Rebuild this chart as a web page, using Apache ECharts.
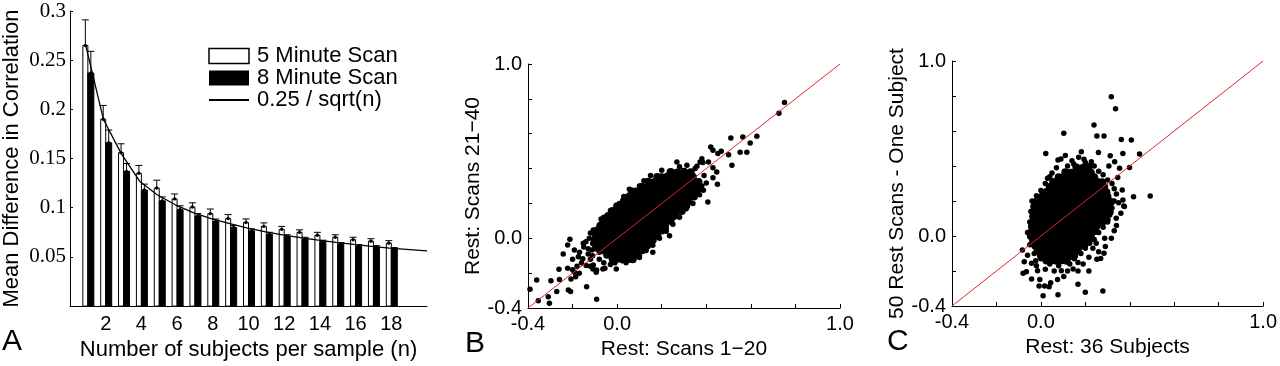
<!DOCTYPE html>
<html>
<head>
<meta charset="utf-8">
<script src="https://cdn.jsdelivr.net/npm/echarts@6/dist/echarts.min.js"></script>
<style>
  html, body { margin: 0; padding: 0; background: #fff; }
  #main { width: 1280px; height: 366px; }
</style>
</head>
<body>
<div id="main"></div>
<script>
// ---- panel A: mean difference in correlation vs. sample size ----
const sampleSizes = [1, 2, 3, 4, 5, 6, 7, 8, 9, 10, 11, 12, 13, 14, 15, 16, 17, 18]
const scan5Mean = [0.265, 0.190, 0.156, 0.135, 0.120, 0.109, 0.1007, 0.094, 0.089, 0.085, 0.081, 0.078, 0.075, 0.072, 0.070, 0.0675, 0.066, 0.064]
const scan5Err = [0.291, 0.204, 0.165, 0.143, 0.128, 0.114, 0.105, 0.0987, 0.093, 0.0886, 0.0846, 0.081, 0.0775, 0.075, 0.0725, 0.070, 0.0685, 0.0665]
const scan8Mean = [0.237, 0.166, 0.137, 0.118, 0.107, 0.098, 0.0916, 0.086, 0.080, 0.0765, 0.073, 0.0705, 0.068, 0.0655, 0.063, 0.061, 0.060, 0.058]
const scan8Err = [0.259, 0.179, 0.145, 0.124, 0.111, 0.102, 0.094, 0.0885, 0.082, 0.0785, 0.075, 0.0725, 0.070, 0.067, 0.0645, 0.0625, 0.0615, 0.0595]
// curve (n, value)
const sqrtCurve = [[0.88, 0.265], [1.87, 0.19], [2.87, 0.155], [3.9, 0.127], [4.9, 0.113], [5.9, 0.103],
  [6.9, 0.095], [7.9, 0.089], [8.9, 0.084], [9.9, 0.0795], [10.9, 0.0758], [11.9, 0.0725], [12.9, 0.0697],
  [13.9, 0.067], [14.9, 0.0648], [15.9, 0.0627], [16.9, 0.0608], [17.9, 0.059], [20, 0.0562]]
const legendNames = ['5 Minute Scan', '8 Minute Scan', '0.25 / sqrt(n)']

// ---- panels B and C: scatter of correlations ----
const shownTicks = [-0.4, 0.0, 1.0]
const identityLine = [[-0.4, -0.4], [1.0, 1.0]]

// B: Rest scans 1-20 (x) vs 21-40 (y), scattered points away from the cloud
const scansOuter = [
  [0.751, 0.779], [0.726, 0.718], [0.627, 0.585], [0.564, 0.581], [0.51, 0.576], [0.597, 0.547], [0.552, 0.493],
  [0.582, 0.493], [0.5, 0.48], [0.515, 0.419], [0.467, 0.499], [0.452, 0.486], [0.42, 0.524], [0.43, 0.505],
  [0.447, 0.38], [0.43, 0.405], [0.45, 0.31], [0.43, 0.348], [0.407, 0.208], [0.38, 0.457], [0.41, 0.438],
  [0.372, 0.438], [0.268, 0.438], [0.313, 0.419], [0.358, 0.413], [0.248, 0.38], [0.178, 0.337], [0.14, 0.279],
  [0.387, 0.275], [0.4, 0.317], [0.37, 0.28], [0.325, 0.206], [0.34, 0.244], [0.385, 0.435], [0.055, 0.282],
  [0.085, 0.263], [0.065, 0.277], [0.17, 0.325], [0.245, 0.373],
  [-0.391, -0.293], [-0.361, -0.239], [-0.354, -0.358], [-0.304, -0.373], [-0.309, -0.335], [-0.297, -0.243],
  [-0.271, -0.306], [-0.261, -0.178], [-0.242, -0.09], [-0.222, -0.172], [-0.219, -0.297], [-0.209, -0.306],
  [-0.212, -0.006], [-0.192, -0.067], [-0.186, -0.22], [-0.174, -0.106], [-0.137, -0.278], [-0.092, -0.35],
  [-0.107, 0.047], [-0.107, -0.153], [-0.069, 0.105], [-0.152, -0.029], [-0.114, -0.067], [-0.092, -0.182],
  [-0.055, -0.172], [-0.01, -0.115], [0.035, -0.125], [-0.222, -0.038], [-0.169, -0.08], [-0.154, -0.118],
  [-0.139, -0.156], [-0.109, -0.176], [-0.064, -0.176], [-0.004, -0.176], [-0.094, -0.195], [-0.259, -0.237],
  [-0.207, -0.233], [-0.192, -0.195], [0.07, -0.118], [0.04, -0.109], [0.1, -0.099], [0.16, -0.08], [0.22, 0.053],
  [0.235, 0.015], [-0.072, 0.111], [-0.034, 0.101], [-0.094, -0.061],
  [-0.15, -0.05], [-0.13, -0.09], [-0.12, -0.12], [-0.16, -0.14], [-0.18, -0.16], [-0.14, -0.02], [-0.125, 0.0],
  [-0.13, -0.06], [-0.11, -0.1], [-0.08, -0.12], [-0.06, -0.14], [-0.03, -0.15], [-0.2, -0.12], [-0.17, -0.2],
  [-0.2, -0.18], [-0.12, -0.16],
  [-0.12, 0.03], [-0.11, -0.03], [-0.08, 0.07], [-0.06, 0.12], [-0.03, 0.16], [0.01, 0.2], [0.03, 0.24],
  [0.06, 0.26], [0.1, 0.3], [0.12, 0.33], [0.15, 0.36], [0.2, 0.39], [0.28, 0.41], [0.35, 0.4], [0.39, 0.36],
  [0.38, 0.3], [0.37, 0.25], [0.34, 0.2], [0.31, 0.17], [0.28, 0.12], [0.25, 0.08], [0.22, 0.04], [0.19, 0.0],
  [0.16, -0.04], [0.13, -0.07], [0.1, -0.11], [0.04, -0.14], [-0.01, -0.14], [-0.08, -0.08], [-0.1, -0.05]
]
// B: the dense middle of the cloud
const scansCore = [
  [-0.02, -0.12], [0.0, -0.118], [0.025, -0.122], [0.05, -0.119], [0.07, -0.121],
  [-0.045, -0.095], [-0.025, -0.093], [-0.003, -0.097], [0.02, -0.094], [0.04, -0.096], [0.062, -0.093], [0.085, -0.095],
  [-0.065, -0.068], [-0.04, -0.066], [-0.02, -0.07], [0.0, -0.067], [0.025, -0.069], [0.045, -0.066], [0.07, -0.07], [0.09, -0.067], [0.112, -0.068],
  [-0.085, -0.04], [-0.06, -0.042], [-0.04, -0.038], [-0.015, -0.041], [0.005, -0.039], [0.03, -0.042], [0.05, -0.038], [0.075, -0.04], [0.095, -0.043], [0.115, -0.039], [0.135, -0.041],
  [-0.1, -0.012], [-0.075, -0.01], [-0.055, -0.014], [-0.03, -0.011], [-0.01, -0.013], [0.015, -0.01], [0.035, -0.014], [0.06, -0.012], [0.08, -0.01], [0.105, -0.013], [0.125, -0.011], [0.145, -0.014], [0.16, -0.01],
  [-0.095, 0.016], [-0.07, 0.018], [-0.05, 0.014], [-0.025, 0.017], [-0.005, 0.015], [0.02, 0.018], [0.04, 0.014], [0.065, 0.016], [0.085, 0.019], [0.11, 0.015], [0.13, 0.017], [0.155, 0.014], [0.18, 0.016],
  [-0.09, 0.044], [-0.065, 0.042], [-0.045, 0.046], [-0.02, 0.043], [0.0, 0.045], [0.025, 0.042], [0.045, 0.046], [0.07, 0.044], [0.09, 0.041], [0.115, 0.045], [0.135, 0.043], [0.16, 0.046], [0.18, 0.042], [0.2, 0.044],
  [-0.075, 0.072], [-0.055, 0.07], [-0.03, 0.074], [-0.01, 0.071], [0.015, 0.073], [0.035, 0.07], [0.06, 0.074], [0.08, 0.072], [0.105, 0.069], [0.125, 0.073], [0.15, 0.071], [0.17, 0.074], [0.195, 0.07], [0.215, 0.072],
  [-0.055, 0.1], [-0.035, 0.098], [-0.01, 0.102], [0.01, 0.099], [0.035, 0.101], [0.055, 0.098], [0.08, 0.102], [0.1, 0.1], [0.125, 0.097], [0.145, 0.101], [0.17, 0.099], [0.19, 0.102], [0.215, 0.098], [0.24, 0.1],
  [-0.04, 0.128], [-0.02, 0.126], [0.005, 0.13], [0.025, 0.127], [0.05, 0.129], [0.07, 0.126], [0.095, 0.13], [0.115, 0.128], [0.14, 0.125], [0.16, 0.129], [0.185, 0.127], [0.205, 0.13], [0.23, 0.126], [0.255, 0.128],
  [-0.02, 0.156], [0.0, 0.154], [0.025, 0.158], [0.045, 0.155], [0.07, 0.157], [0.09, 0.154], [0.115, 0.158], [0.135, 0.156], [0.16, 0.153], [0.18, 0.157], [0.205, 0.155], [0.225, 0.158], [0.25, 0.154], [0.27, 0.156], [0.29, 0.157],
  [0.0, 0.184], [0.02, 0.182], [0.045, 0.186], [0.065, 0.183], [0.09, 0.185], [0.11, 0.182], [0.135, 0.186], [0.155, 0.184], [0.18, 0.181], [0.2, 0.185], [0.225, 0.183], [0.245, 0.186], [0.27, 0.182], [0.29, 0.184], [0.31, 0.185],
  [0.03, 0.212], [0.05, 0.21], [0.075, 0.214], [0.095, 0.211], [0.12, 0.213], [0.14, 0.21], [0.165, 0.214], [0.185, 0.212], [0.21, 0.209], [0.23, 0.213], [0.255, 0.211], [0.275, 0.214], [0.3, 0.21], [0.32, 0.212],
  [0.055, 0.24], [0.08, 0.238], [0.1, 0.242], [0.125, 0.239], [0.145, 0.241], [0.17, 0.238], [0.19, 0.242], [0.215, 0.24], [0.235, 0.237], [0.26, 0.241], [0.28, 0.239], [0.305, 0.242], [0.325, 0.238], [0.345, 0.24],
  [0.085, 0.268], [0.105, 0.266], [0.13, 0.27], [0.15, 0.267], [0.175, 0.269], [0.195, 0.266], [0.22, 0.27], [0.24, 0.268], [0.265, 0.265], [0.285, 0.269], [0.31, 0.267], [0.33, 0.27], [0.355, 0.266],
  [0.11, 0.296], [0.135, 0.294], [0.155, 0.298], [0.18, 0.295], [0.2, 0.297], [0.225, 0.294], [0.245, 0.298], [0.27, 0.296], [0.29, 0.293], [0.315, 0.297], [0.335, 0.295], [0.36, 0.298],
  [0.14, 0.324], [0.165, 0.322], [0.185, 0.326], [0.21, 0.323], [0.23, 0.325], [0.255, 0.322], [0.275, 0.326], [0.3, 0.324], [0.32, 0.321], [0.345, 0.325], [0.365, 0.323],
  [0.18, 0.352], [0.2, 0.35], [0.225, 0.354], [0.25, 0.351], [0.27, 0.353], [0.295, 0.35], [0.315, 0.354], [0.34, 0.352],
  [0.24, 0.38], [0.27, 0.378], [0.3, 0.382], [0.33, 0.379]
]

// C: 36 subjects (x) vs 50 scans of one subject (y)
const subjectOuter = [
  [0.317, 0.796], [0.336, 0.727], [0.239, 0.634], [0.103, 0.587], [0.252, 0.571], [0.284, 0.571], [0.362, 0.552],
  [0.407, 0.549], [0.022, 0.472], [0.182, 0.482], [0.259, 0.477], [0.312, 0.459], [0.369, 0.472], [0.444, 0.469],
  [0.077, 0.434], [0.194, 0.438], [0.227, 0.425], [0.332, 0.425], [0.306, 0.4], [0.148, 0.411], [0.399, 0.392],
  [0.354, 0.387], [0.04, 0.339], [0.346, 0.335], [0.366, 0.263], [0.417, 0.225], [0.492, 0.229], [0.376, 0.168],
  [0.369, 0.206], [-0.027, 0.196], [-0.023, 0.11],
  [-0.083, -0.08], [-0.075, -0.147], [-0.042, -0.156], [-0.023, -0.141], [-0.08, -0.213], [-0.065, -0.204],
  [-0.042, -0.246], [-0.015, -0.198], [-0.005, -0.248], [-0.008, -0.286], [0.017, -0.286], [0.01, -0.341],
  [0.044, -0.267], [0.037, -0.29], [0.077, -0.336], [0.075, -0.248], [0.092, -0.198], [0.103, -0.232],
  [0.122, -0.147], [0.145, -0.189], [0.167, -0.152], [0.167, -0.2], [0.167, -0.276], [0.2, -0.322], [0.216, -0.2],
  [0.216, -0.122], [0.252, -0.133], [0.269, -0.128], [0.284, -0.099], [0.279, -0.314], [0.234, -0.07],
  [0.249, -0.042], [0.287, -0.013], [0.317, -0.013], [0.219, -0.042], [0.339, 0.101], [0.373, 0.171],
  [0.264, 0.072], [0.302, 0.091], [0.212, 0.015],
  [0.05, 0.36], [0.07, 0.39], [0.12, 0.4], [0.14, 0.43], [0.2, 0.42], [0.24, 0.4], [0.26, 0.37], [0.28, 0.35],
  [0.3, 0.32], [0.32, 0.3], [0.33, 0.27], [0.34, 0.24], [0.33, 0.2], [0.32, 0.16], [0.31, 0.12], [0.3, 0.08],
  [0.28, 0.05], [0.26, 0.02], [0.24, -0.02], [0.2, -0.07], [0.18, -0.1], [0.15, -0.13], [0.13, -0.16],
  [0.08, -0.17], [0.04, -0.16], [0.0, -0.13], [-0.03, -0.1], [-0.05, -0.05], [-0.06, 0.02], [-0.05, 0.08],
  [-0.045, 0.14], [-0.04, 0.2], [-0.02, 0.23], [0.0, 0.26], [0.02, 0.3], [0.03, 0.33], [0.09, 0.44], [0.17, 0.45],
  [0.11, 0.46], [0.27, 0.28], [0.35, 0.19], [0.36, 0.13], [0.34, 0.06], [0.33, 0.03], [0.29, -0.06], [0.26, -0.09],
  [0.19, -0.16], [0.12, -0.2], [0.06, -0.2], [0.02, -0.19], [-0.02, -0.17], [-0.06, -0.11]
]
const subjectCore = [
  [0.025, -0.14], [0.05, -0.138], [0.07, -0.142], [0.095, -0.139], [0.115, -0.141],
  [0.0, -0.112], [0.02, -0.11], [0.045, -0.114], [0.065, -0.111], [0.09, -0.113], [0.11, -0.11], [0.135, -0.114], [0.15, -0.112],
  [-0.015, -0.084], [0.01, -0.082], [0.03, -0.086], [0.055, -0.083], [0.075, -0.085], [0.1, -0.082], [0.12, -0.086], [0.145, -0.084], [0.165, -0.081],
  [-0.025, -0.056], [-0.005, -0.054], [0.02, -0.058], [0.04, -0.055], [0.065, -0.057], [0.085, -0.054], [0.11, -0.058], [0.13, -0.056], [0.155, -0.053], [0.175, -0.057], [0.195, -0.055],
  [-0.035, -0.028], [-0.01, -0.026], [0.01, -0.03], [0.035, -0.027], [0.055, -0.029], [0.08, -0.026], [0.1, -0.03], [0.125, -0.028], [0.145, -0.025], [0.17, -0.029], [0.19, -0.027], [0.215, -0.03],
  [-0.045, 0.0], [-0.025, 0.002], [0.0, -0.002], [0.02, 0.001], [0.045, -0.001], [0.065, 0.002], [0.09, -0.002], [0.11, 0.0], [0.135, 0.003], [0.155, -0.001], [0.18, 0.001], [0.2, -0.002], [0.225, 0.0],
  [-0.04, 0.028], [-0.015, 0.026], [0.005, 0.03], [0.03, 0.027], [0.05, 0.029], [0.075, 0.026], [0.095, 0.03], [0.12, 0.028], [0.14, 0.025], [0.165, 0.029], [0.185, 0.027], [0.21, 0.03], [0.23, 0.026], [0.245, 0.028],
  [-0.04, 0.056], [-0.02, 0.054], [0.005, 0.058], [0.025, 0.055], [0.05, 0.057], [0.07, 0.054], [0.095, 0.058], [0.115, 0.056], [0.14, 0.053], [0.16, 0.057], [0.185, 0.055], [0.205, 0.058], [0.23, 0.054], [0.25, 0.056],
  [-0.03, 0.084], [-0.01, 0.082], [0.015, 0.086], [0.035, 0.083], [0.06, 0.085], [0.08, 0.082], [0.105, 0.086], [0.125, 0.084], [0.15, 0.081], [0.17, 0.085], [0.195, 0.083], [0.215, 0.086], [0.24, 0.082], [0.26, 0.084], [0.28, 0.085],
  [-0.035, 0.112], [-0.015, 0.11], [0.01, 0.114], [0.03, 0.111], [0.055, 0.113], [0.075, 0.11], [0.1, 0.114], [0.12, 0.112], [0.145, 0.109], [0.165, 0.113], [0.19, 0.111], [0.21, 0.114], [0.235, 0.11], [0.255, 0.112], [0.28, 0.113], [0.295, 0.111],
  [-0.025, 0.14], [0.0, 0.138], [0.02, 0.142], [0.045, 0.139], [0.065, 0.141], [0.09, 0.138], [0.11, 0.142], [0.135, 0.14], [0.155, 0.137], [0.18, 0.141], [0.2, 0.139], [0.225, 0.142], [0.245, 0.138], [0.27, 0.14], [0.29, 0.141], [0.31, 0.139],
  [-0.03, 0.168], [-0.01, 0.166], [0.015, 0.17], [0.035, 0.167], [0.06, 0.169], [0.08, 0.166], [0.105, 0.17], [0.125, 0.168], [0.15, 0.165], [0.17, 0.169], [0.195, 0.167], [0.215, 0.17], [0.24, 0.166], [0.26, 0.168], [0.285, 0.169], [0.305, 0.167],
  [-0.02, 0.196], [0.005, 0.194], [0.025, 0.198], [0.05, 0.195], [0.07, 0.197], [0.095, 0.194], [0.115, 0.198], [0.14, 0.196], [0.16, 0.193], [0.185, 0.197], [0.205, 0.195], [0.23, 0.198], [0.25, 0.194], [0.275, 0.196], [0.295, 0.197], [0.315, 0.195],
  [0.005, 0.224], [0.03, 0.222], [0.05, 0.226], [0.075, 0.223], [0.095, 0.225], [0.12, 0.222], [0.14, 0.226], [0.165, 0.224], [0.185, 0.221], [0.21, 0.225], [0.23, 0.223], [0.255, 0.226], [0.275, 0.222], [0.3, 0.224],
  [0.025, 0.252], [0.045, 0.25], [0.07, 0.254], [0.09, 0.251], [0.115, 0.253], [0.135, 0.25], [0.16, 0.254], [0.18, 0.252], [0.205, 0.249], [0.225, 0.253], [0.25, 0.251], [0.27, 0.254], [0.295, 0.25],
  [0.04, 0.28], [0.065, 0.278], [0.085, 0.282], [0.11, 0.279], [0.13, 0.281], [0.155, 0.278], [0.175, 0.282], [0.2, 0.28], [0.22, 0.277], [0.245, 0.281], [0.265, 0.279], [0.285, 0.282],
  [0.055, 0.308], [0.075, 0.306], [0.1, 0.31], [0.12, 0.307], [0.145, 0.309], [0.165, 0.306], [0.19, 0.31], [0.21, 0.308], [0.235, 0.305], [0.255, 0.309], [0.275, 0.307],
  [0.08, 0.336], [0.105, 0.334], [0.125, 0.338], [0.15, 0.335], [0.17, 0.337], [0.195, 0.334], [0.215, 0.338], [0.24, 0.336],
  [0.11, 0.364], [0.135, 0.362], [0.16, 0.366], [0.18, 0.363], [0.205, 0.365], [0.225, 0.362],
  [0.16, 0.392], [0.19, 0.39], [0.215, 0.394]
]

const sans = 'Liberation Sans, Arial, sans-serif'
const serif = 'Liberation Serif, Times New Roman, serif'

// bar + errorbar, white bar sits left of the tick, black bar right of it
function barWithError (fill, left) {
  return function (params, api) {
    const n = api.value(0)
    const top = api.coord([n, api.value(1)])
    const base = api.coord([n, 0])
    const err = api.coord([n, api.value(2)])
    const w = left ? 5 : 6
    const x0 = left ? top[0] - 5 : top[0]
    const cx = x0 + w / 2
    return {
      type: 'group',
      children: [
        { type: 'rect', shape: { x: x0, y: top[1], width: w, height: base[1] - top[1] }, style: { fill: fill, stroke: '#000', lineWidth: 1 } },
        { type: 'line', shape: { x1: cx, y1: top[1], x2: cx, y2: err[1] }, style: { stroke: '#000', lineWidth: 1 } },
        { type: 'line', shape: { x1: cx - 3.5, y1: err[1], x2: cx + 3.5, y2: err[1] }, style: { stroke: '#000', lineWidth: 1 } },
        { type: 'circle', shape: { cx: cx, cy: top[1], r: 1.7 }, style: { fill: '#000' } }
      ]
    }
  }
}

function corrLabel (v) {
  return shownTicks.some(t => Math.abs(t - v) < 1e-6) ? v.toFixed(1) : ''
}

function corrAxis (idx, name, gap) {
  return {
    type: 'value',
    gridIndex: idx,
    min: -0.4,
    max: 1.0,
    interval: 0.2,
    name: name,
    nameLocation: 'middle',
    nameGap: gap,
    nameTextStyle: { fontFamily: sans, fontSize: 21, color: '#000' },
    axisLine: { onZero: false, lineStyle: { color: '#000', width: 1 } },
    axisTick: { inside: true, length: 4, lineStyle: { color: '#000' } },
    axisLabel: { formatter: corrLabel, fontFamily: sans, fontSize: 20, color: '#000', margin: 6, showMinLabel: true, showMaxLabel: true },
    splitLine: { show: false }
  }
}

function dots (grid, data, size) {
  return {
    type: 'scatter',
    xAxisIndex: grid,
    yAxisIndex: grid,
    data: data,
    symbolSize: size,
    itemStyle: { color: '#000', opacity: 1 },
    silent: true
  }
}

function diagonal (grid) {
  return {
    type: 'line',
    xAxisIndex: grid,
    yAxisIndex: grid,
    data: identityLine,
    symbol: 'none',
    lineStyle: { color: '#e3242b', width: 1 },
    z: 5
  }
}

let myChart = echarts.init(document.getElementById('main'), null, { renderer: 'canvas' })
let option = {
  backgroundColor: '#fff',
  animation: false,
  grid: [
    { left: 70, top: 11, width: 357, height: 298 },
    { left: 528, top: 64, width: 312, height: 244 },
    { left: 952, top: 61, width: 312, height: 245 }
  ],
  legend: {
    left: 208,
    top: 45,
    orient: 'vertical',
    itemWidth: 40,
    itemHeight: 15,
    itemGap: 0,
    padding: 0,
    textStyle: { fontFamily: sans, fontSize: 22, color: '#000', lineHeight: 21, padding: [0, 0, 0, 3] },
    data: [
      { name: legendNames[0], icon: 'rect', itemStyle: { color: '#fff', borderColor: '#000', borderWidth: 1.5 } },
      { name: legendNames[1], icon: 'rect', itemStyle: { color: '#000' } },
      { name: legendNames[2], itemStyle: { opacity: 0 }, lineStyle: { color: '#000', width: 2 } }
    ]
  },
  xAxis: [
    {
      type: 'value',
      gridIndex: 0,
      min: 0,
      max: 20,
      interval: 2,
      name: 'Number of subjects per sample (n)',
      nameLocation: 'middle',
      nameGap: 25,
      nameTextStyle: { fontFamily: sans, fontSize: 22, color: '#000' },
      axisLine: { lineStyle: { color: '#000', width: 1 } },
      axisTick: { show: false },
      axisLabel: { formatter: v => (v === 0 || v === 20) ? '' : v, fontFamily: sans, fontSize: 20, color: '#000', margin: 8 },
      splitLine: { show: false }
    },
    corrAxis(1, 'Rest: Scans 1\u221220', 26),
    corrAxis(2, 'Rest: 36 Subjects', 27)
  ],
  yAxis: [
    {
      type: 'value',
      gridIndex: 0,
      min: 0,
      max: 0.3,
      interval: 0.05,
      name: 'Mean Difference in Correlation',
      nameLocation: 'middle',
      nameGap: 47,
      nameTextStyle: { fontFamily: sans, fontSize: 22, color: '#000' },
      axisLine: { lineStyle: { color: '#000', width: 1 } },
      axisTick: { inside: true, length: 3, lineStyle: { color: '#000' } },
      axisLabel: { formatter: v => v === 0 ? '' : String(+v.toFixed(2)), fontFamily: serif, fontSize: 21, color: '#000', margin: 4 },
      splitLine: { show: false }
    },
    corrAxis(1, 'Rest: Scans 21\u221240', 42),
    corrAxis(2, '50 Rest Scans - One Subject', 42)
  ],
  series: [
    {
      name: legendNames[0],
      type: 'custom',
      xAxisIndex: 0,
      yAxisIndex: 0,
      itemStyle: { color: '#fff', borderColor: '#000' },
      renderItem: barWithError('#fff', true),
      data: sampleSizes.map((n, i) => [n, scan5Mean[i], scan5Err[i]]),
      z: 2
    },
    {
      name: legendNames[1],
      type: 'custom',
      xAxisIndex: 0,
      yAxisIndex: 0,
      itemStyle: { color: '#000' },
      renderItem: barWithError('#000', false),
      data: sampleSizes.map((n, i) => [n, scan8Mean[i], scan8Err[i]]),
      z: 2
    },
    {
      name: legendNames[2],
      type: 'line',
      xAxisIndex: 0,
      yAxisIndex: 0,
      data: sqrtCurve,
      symbol: 'none',
      itemStyle: { color: '#000' },
      lineStyle: { color: '#000', width: 1.3 },
      z: 3
    },
    dots(1, scansOuter, 5.5),
    dots(1, scansCore, 8),
    diagonal(1),
    dots(2, subjectOuter, 5.5),
    dots(2, subjectCore, 8),
    diagonal(2)
  ],
  graphic: [
    { type: 'text', left: 2, top: 327, style: { text: 'A', font: '30px ' + sans, fill: '#000' } },
    { type: 'text', left: 465, top: 329, style: { text: 'B', font: '30px ' + sans, fill: '#000' } },
    { type: 'text', left: 887, top: 327, style: { text: 'C', font: '30px ' + sans, fill: '#000' } }
  ]
}
myChart.setOption(option, true)
</script>
</body>
</html>
